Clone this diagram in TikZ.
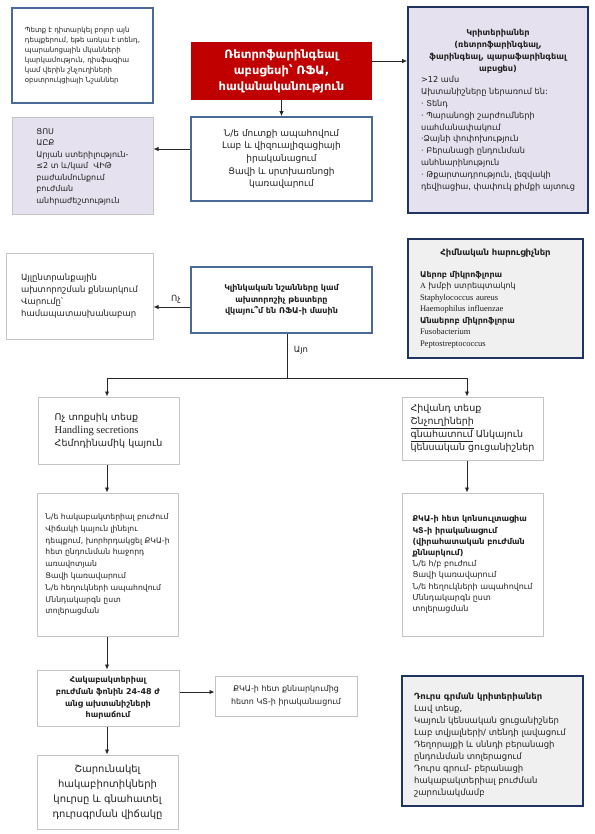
\documentclass[tikz,border=0pt]{standalone}
\usepackage{fontspec}
\setmainfont{DejaVu Sans}
\newfontfamily\lat{Liberation Serif}
\usetikzlibrary{arrows.meta}
\definecolor{redc}{HTML}{C00000}
\definecolor{blueb}{HTML}{4A6A98}
\definecolor{darkb}{HTML}{1F3461}
\definecolor{grayb}{HTML}{C4C4C4}
\definecolor{lav}{HTML}{E6E1EE}
\definecolor{lgray}{HTML}{F0F0F0}
\definecolor{txt}{HTML}{202020}
\tikzset{
 base/.style={rectangle, inner sep=0pt, text=txt},
 bluebox/.style={base, draw=blueb, line width=1.6pt, fill=white},
 graybox/.style={base, draw=grayb, line width=1pt, fill=white},
 lavbox/.style={base, draw=grayb, line width=1pt, fill=lav},
 critbox/.style={base, draw=darkb, line width=1.8pt, fill=lav},
 infobox/.style={base, draw=darkb, line width=1.6pt, fill=lgray},
 redbox/.style={base, fill=redc, text=white, font=\bfseries\fontsize{11.5}{16}\selectfont, align=center},
 arr/.style={draw=black!85, line width=0.9pt, -{Latex[length=5pt,width=4.5pt]}},
 ln/.style={draw=black!85, line width=0.9pt},
 lbl/.style={font=\fontsize{8.5}{10}\selectfont, text=txt, inner sep=0pt}
}
\begin{document}
\begin{tikzpicture}[x=1pt,y=-1pt]
\useasboundingbox (0,0) rectangle (594,834);
\fill[white] (0,0) rectangle (594,834);

\node[bluebox, line width=1.3pt, minimum width=141pt, minimum height=95pt, align=left, font=\fontsize{7}{10}\selectfont] (n1) at (82.5,55.5)
 {Պետք է դիտարկել բոլոր այն\\ դեպքերում, եթե առկա է տենդ,\\ պարանոցային մկանների\\ կարկամություն, դիսֆագիա\\ կամ վերին շնչուղիների\\ օբստրուկցիայի Նշաններ};

\node[redbox, minimum width=181pt, minimum height=58pt] (n2) at (281.5,71)
 {Ռետրոֆարինգեալ\\ աբսցեսի՝ ՌՖԱ,\\ հավանականություն};

\node[critbox, minimum width=180pt, minimum height=206pt, font=\fontsize{8.2}{11.8}\selectfont] (n3) at (498,110)
 {\begin{tabular}{@{}l@{}}
 \multicolumn{1}{@{}c@{}}{\bfseries Կրիտերիաներ}\\
 \multicolumn{1}{@{}c@{}}{\bfseries (ռետրոֆարինգեալ,}\\
 \multicolumn{1}{@{}c@{}}{\bfseries ֆարինգեալ, պարաֆարինգեալ}\\
 \multicolumn{1}{@{}c@{}}{\bfseries աբսցես)}\\
 >12 ամս\\
 Ախտանիշները ներառում են:\\
 · Տենդ\\
 · Պարանոցի շարժումների\\
 սահմանափակում\\
 ·Ձայնի փոփոխություն\\
 · Բերանացի ընդունման\\
 անհնարինություն\\
 · Թքարտադրություն, լեզվակի\\
 դեվիացիա, փափուկ քիմքի այտուց
 \end{tabular}};

\node[lavbox, minimum width=141pt, minimum height=97pt, align=left, font=\fontsize{8}{11.5}\selectfont] (n4) at (82.5,166.5)
 {ՑՈՍ\\ ԱԸՔ\\ Արյան ստերիլություն-\\ ≤2 տ և/կամ\ \ ՎԻԹ\\ բաժանմունքում\\ բուժման\\ անհրաժեշտություն};

\node[bluebox, minimum width=181pt, minimum height=84pt, align=center, font=\fontsize{9}{12.7}\selectfont] (n5) at (281.5,159)
 {Ն/ե մուտքի ապահովում\\ Լաբ և վիզուալիզացիայի\\ իրականացում\\ Ցավի և սրտխառնոցի\\ կառավարում};

\node[graybox, minimum width=147pt, minimum height=86pt, align=left, font=\fontsize{8.5}{12}\selectfont] (n6) at (79.5,296)
 {Այլընտրանքային\\ ախտորոշման քննարկում\\ Վարումը՝\\ համապատասխանաբար};

\node[bluebox, minimum width=181pt, minimum height=66pt, align=center, font=\bfseries\fontsize{8}{11.5}\selectfont] (n7) at (281.5,300)
 {Կլինկական նշանները կամ\\ ախտորոշիչ թեստերը\\ վկայու՞մ են ՌՖԱ-ի մասին};

\node[infobox, minimum width=175pt, minimum height=119pt, text width=151pt, align=left, inner xsep=12pt, font=\fontsize{8}{11.5}\selectfont] (n8) at (495.5,298.5)
 {{\centering\bfseries\fontsize{8.5}{11.5}\selectfont Հիմնական հարուցիչներ\par}\vspace{10pt}
 {\bfseries Աերոբ միկրոֆլորա}\\
 {\lat A} խմբի ստրեպտակոկ\\
 {\lat\fontsize{8.5}{11.5}\selectfont Staphylococcus aureus}\\
 {\lat\fontsize{8.5}{11.5}\selectfont Haemophilus influenzae}\\
 {\bfseries Անաերոբ միկրոֆլորա}\\
 {\lat\fontsize{8.5}{11.5}\selectfont Fusobacterium}\\
 {\lat\fontsize{8.5}{11.5}\selectfont Peptostreptococcus}};

\node[lbl] (no) at (176,299) {Ոչ};
\node[lbl] (yes) at (301,350) {Այո};

\node[graybox, minimum width=141pt, minimum height=67pt, align=left, font=\fontsize{9.5}{13}\selectfont] (n9) at (108.5,430.5)
 {Ոչ տոքսիկ տեսք\\ {\lat\fontsize{10.5}{13}\selectfont Handling secretions}\\ Հեմոդինամիկ կայուն};

\node[graybox, minimum width=141pt, minimum height=143pt, align=left, font=\fontsize{7.7}{11.8}\selectfont] (n10) at (107.5,564.5)
 {Ն/ե հակաբակտերիալ բուժում\\ Վիճակի կայուն լինելու\\ դեպքում, խորհրդակցել ՔԿԱ-ի\\ հետ ընդունման հաջորդ\\ առավոտյան\\ Ցավի կառավարում\\ Ն/ե հեղուկների ապահովում\\ Մննդակարգն ըստ\\ տոլերացման};

\node[graybox, minimum width=141pt, minimum height=63pt, align=left, font=\fontsize{9.5}{13}\selectfont] (n11) at (472.5,428.5)
 {Հիվանդ տեսք\\ \underline{Շնչուղիների}\\ \underline{գնահատում} Անկայուն\\ կենսական ցուցանիշներ};

\node[graybox, minimum width=141pt, minimum height=143pt, align=left, font=\fontsize{8}{11.2}\selectfont] (n12) at (472.5,564.5)
 {{\bfseries ՔԿԱ-ի հետ կոնսուլտացիա}\\ {\bfseries ԿՏ-ի իրականացում}\\ {\bfseries (վիրահատական բուժման}\\ {\bfseries քննարկում)}\\ Ն/ե հ/բ բուժում\\ Ցավի կառավարում\\ Ն/ե հեղուկների ապահովում\\ Մննդակարգն ըստ\\ տոլերացման};

\node[graybox, minimum width=142pt, minimum height=56pt, align=center, font=\bfseries\fontsize{8}{11.8}\selectfont] (n13) at (108,698)
 {Հակաբակտերիալ\\ բուժման ֆոնին 24-48 ժ\\ անց ախտանիշների\\ հարաճում};

\node[graybox, minimum width=142pt, minimum height=40pt, align=center, font=\fontsize{8}{13}\selectfont] (n14) at (286,696)
 {ՔԿԱ-ի հետ քննարկումից\\ հետո ԿՏ-ի իրականացում};

\node[graybox, minimum width=141pt, minimum height=74pt, align=center, font=\fontsize{10}{15}\selectfont] (n15) at (107.5,792)
 {Շարունակել\\ հակաբիոտիկների\\ կուրսը և գնահատել\\ դուրսգրման վիճակը};

\node[infobox, minimum width=181pt, minimum height=130pt] (n16) at (492.5,741) {};
\node[base, anchor=north west, align=left, font=\fontsize{8.5}{12}\selectfont] (n16t) at (414,693)
 {{\bfseries Դուրս գրման կրիտերիաներ}\\ Լավ տեսք,\\ Կայուն կենսական ցուցանիշներ\\ Լաբ տվյալների/ տենդի լավացում\\ Դեղորայքի և սննդի բերանացի\\ ընդունման տոլերացում\\ Դուրս գրում- բերանացի\\ հակաբակտերիալ բուժման\\ շարունակմամբ};

\coordinate (sp) at (287,378);
\coordinate (bl) at (107,378);
\coordinate (br) at (467,378);

\draw[arr] ([yshift=10pt]n2.east) -- ([yshift=10pt]n2.east -| n3.west);
\draw[arr] (n2.south) -- (n5.north);
\draw[arr] ([yshift=10pt]n5.west) -- ([yshift=10pt]n5.west -| n4.east);
\draw[arr] ([yshift=-7pt]n7.west) -- ([yshift=-7pt]n7.west -| n6.east);
\draw[ln] (sp |- n7.south) -- (sp);
\draw[ln] (bl) -- (br);
\draw[arr] (bl) -- (bl |- n9.north);
\draw[arr] (br) -- (br |- n11.north);
\draw[arr] (bl |- n9.south) -- (bl |- n10.north);
\draw[arr] (br |- n11.south) -- (br |- n12.north);
\draw[arr] (bl |- n10.south) -- (bl |- n13.north);
\draw[arr] ([yshift=6pt]n13.east) -- ([yshift=6pt]n13.east -| n14.west);
\draw[arr] (bl |- n13.south) -- (bl |- n15.north);
\end{tikzpicture}
\end{document}
